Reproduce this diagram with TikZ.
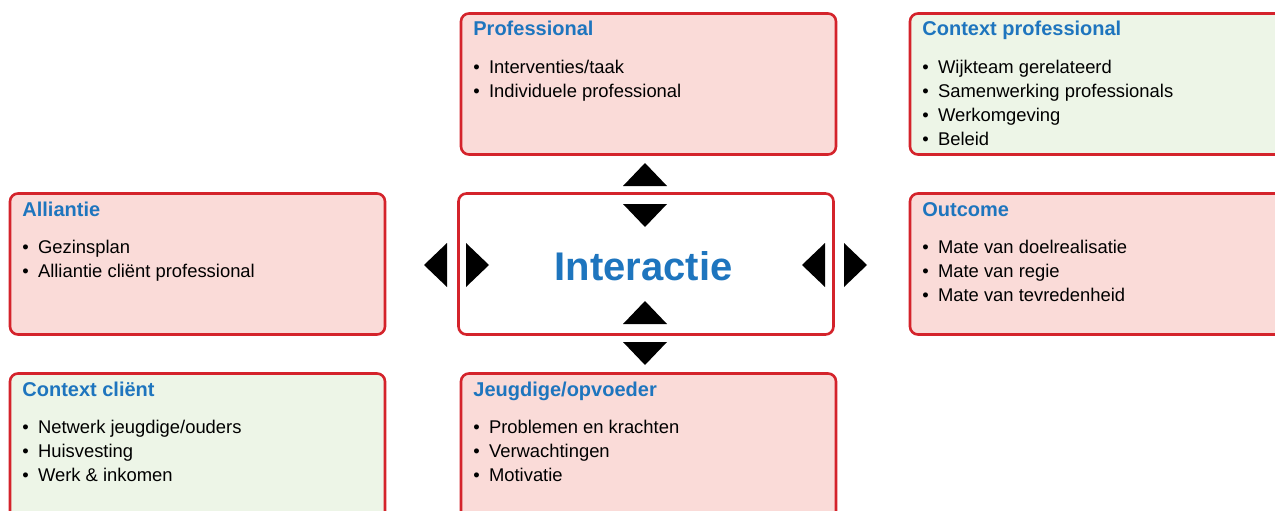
\documentclass[tikz,border=0pt]{standalone}
\usepackage{fontspec}
\setmainfont{Liberation Sans}

\definecolor{panelred}{RGB}{212,35,43}
\definecolor{panelpink}{RGB}{250,219,216}
\definecolor{panelgreen}{RGB}{237,245,231}
\definecolor{headblue}{RGB}{30,117,190}

\tikzset{
  panel/.style={draw=panelred, line width=1.3pt, rounded corners=4pt,
    minimum width=187.5pt, minimum height=70.5pt, inner sep=0pt, outer sep=0pt},
  pinkpanel/.style={panel, fill=panelpink},
  greenpanel/.style={panel, fill=panelgreen},
  heading/.style={anchor=base west, inner sep=0pt, text=headblue,
    font=\bfseries\fontsize{10}{12}\selectfont},
  bigheading/.style={anchor=base, inner sep=0pt, text=headblue,
    font=\bfseries\fontsize{20}{24}\selectfont},
  item/.style={anchor=base west, inner sep=0pt, font=\fontsize{9.2}{12}\selectfont},
}

\begin{document}
\begin{tikzpicture}[x=0.5pt,y=0.5pt]
    \useasboundingbox (0,0) rectangle (1275,510);
    \clip (0,0) rectangle (1275,510);
    % the panels
    \node[pinkpanel] (prof) at (648.5,426) {};
    \node[greenpanel] (ctxprof) at (1097.5,426) {};
    \node[pinkpanel] (alli) at (197.5,246) {};
    \node[panel, fill=white] (inter) at (646,246) {};
    \node[pinkpanel] (outc) at (1097.5,246) {};
    \node[greenpanel, minimum height=85.5pt] (ctxcl) at (197.5,51) {};
    \node[pinkpanel, minimum height=85.5pt] (jeugd) at (648.5,51) {};
    % headings
    \path (prof.north west) ++(12,-22.5) node[heading] (profhead) {Professional};
    \path (ctxprof.north west) ++(12,-22.5) node[heading] (ctxprofhead) {Context professional};
    \path (alli.north west) ++(12,-22.5) node[heading] (allihead) {Alliantie};
    \path (outc.north west) ++(12,-22.5) node[heading] (outchead) {Outcome};
    \path (ctxcl.north west) ++(12,-22.5) node[heading] (ctxclhead) {Context cliënt};
    \path (jeugd.north west) ++(12,-22.5) node[heading] (jeugdhead) {Jeugdige/opvoeder};
    \node[bigheading] (intertext) at (643.5,230) {Interactie};
    % bullet lists
    \foreach \t [count=\i] in {Interventies/taak, Individuele professional}
        \path (prof.north west) ++(12,-36-24*\i) node[item] {\textbullet\hspace{4.6pt}\t};
    \foreach \t [count=\i] in {Wijkteam gerelateerd, Samenwerking professionals, Werkomgeving, Beleid}
        \path (ctxprof.north west) ++(12,-36-24*\i) node[item] {\textbullet\hspace{4.6pt}\t};
    \foreach \t [count=\i] in {Gezinsplan, Alliantie cliënt professional}
        \path (alli.north west) ++(12,-36-24*\i) node[item] {\textbullet\hspace{4.6pt}\t};
    \foreach \t [count=\i] in {Mate van doelrealisatie, Mate van regie, Mate van tevredenheid}
        \path (outc.north west) ++(12,-36-24*\i) node[item] {\textbullet\hspace{4.6pt}\t};
    \foreach \t [count=\i] in {Netwerk jeugdige/ouders, Huisvesting, Werk \& inkomen}
        \path (ctxcl.north west) ++(12,-36-24*\i) node[item] {\textbullet\hspace{4.6pt}\t};
    \foreach \t [count=\i] in {Problemen en krachten, Verwachtingen, Motivatie}
        \path (jeugd.north west) ++(12,-36-24*\i) node[item] {\textbullet\hspace{4.6pt}\t};
    % the triangles round the centre
    \foreach \x/\y/\r in {645/347/0, 645/283/180, 645/209/0, 645/145/180,
                          424/245/90, 489/245/-90, 802/245/90, 867/245/-90}
        \fill[shift={(\x,\y)},rotate=\r,color=black] (0,0) -- (-22,-23) -- (22,-23) -- cycle;
\end{tikzpicture}
\end{document}
